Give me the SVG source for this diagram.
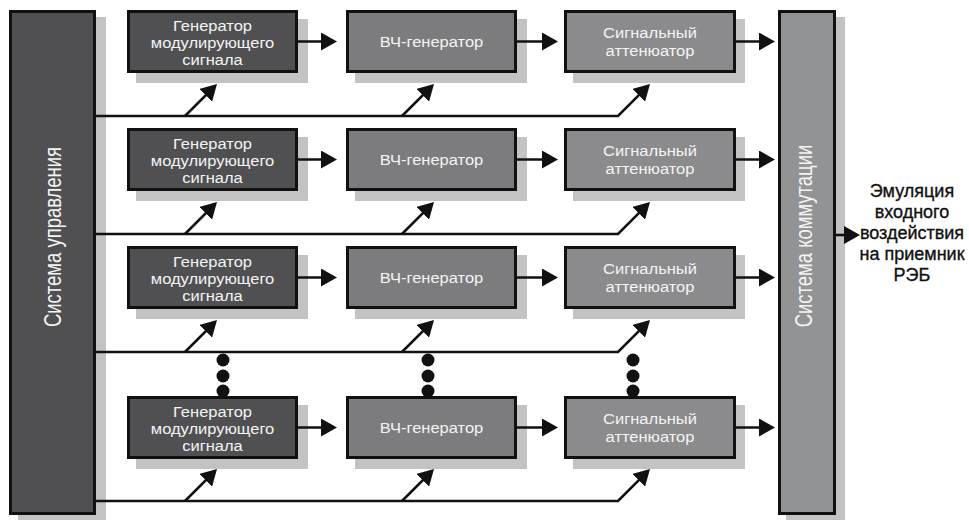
<svg xmlns="http://www.w3.org/2000/svg" width="969" height="520" viewBox="0 0 969 520">
<style>
.sh{fill:#c3c3c3}
.bx{stroke:#111;stroke-width:3}
.dk{fill:#505052}
.vc{fill:#7c7c7e}
.at{fill:#8b8b8d}
.cm{fill:#929395}
.t{font-family:"Liberation Sans",Arial,sans-serif;font-size:15px;fill:#f4f4f4;text-anchor:middle}
.vt{font-family:"Liberation Sans",Arial,sans-serif;font-size:24px;fill:#f4f4f4;text-anchor:middle}
.o{font-family:"Liberation Sans",Arial,sans-serif;font-size:18px;fill:#111;stroke:#111;stroke-width:0.35;text-anchor:middle}
.ln{fill:none;stroke:#111;stroke-width:2.6}
.dot{fill:#111}
</style>
<defs>
<marker id="ah" markerUnits="userSpaceOnUse" viewBox="0 0 16 18" refX="13" refY="9" markerWidth="16" markerHeight="18" orient="auto">
<path d="M0,0 L16,9 L0,18 z" fill="#111"/>
</marker>
</defs>

<g id="control">
<rect class="sh" x="18" y="17" width="88" height="505"/>
<rect class="bx dk" x="10.5" y="11.5" width="84" height="502"/>
<text class="vt" transform="translate(61,237) rotate(-90) scale(0.77,1)">Система управления</text>
</g>

<g id="commutation">
<rect class="sh" x="786" y="17" width="59" height="505"/>
<rect class="bx cm" x="779.5" y="11.5" width="55" height="502"/>
<text class="vt" transform="translate(812,236) rotate(-90) scale(0.77,1)">Система коммутации</text>
</g>

<g id="dots">
<circle class="dot" cx="223" cy="360" r="6.5"/><circle class="dot" cx="223" cy="376" r="6.5"/><circle class="dot" cx="223" cy="391" r="6.5"/>
<circle class="dot" cx="428" cy="360" r="6.5"/><circle class="dot" cx="428" cy="376" r="6.5"/><circle class="dot" cx="428" cy="391" r="6.5"/>
<circle class="dot" cx="633" cy="360" r="6.5"/><circle class="dot" cx="633" cy="376" r="6.5"/><circle class="dot" cx="633" cy="391" r="6.5"/>
</g>

<g id="gen1"><rect class="sh" x="136" y="19" width="172" height="64"/><rect class="bx dk" x="128.5" y="11.5" width="168" height="60"/>
<text class="t" transform="translate(212.5,10) scale(1.1,1)"><tspan x="0" y="20.8">Генератор</tspan><tspan x="0" y="38.1">модулирующего</tspan><tspan x="0" y="55.4">сигнала</tspan></text></g>
<g id="vch1"><rect class="sh" x="355" y="19" width="172" height="64"/><rect class="bx vc" x="347.5" y="11.5" width="168" height="60"/>
<text class="t" transform="translate(431.5,10) scale(1.1,1)" x="0" y="37">ВЧ-генератор</text></g>
<g id="att1"><rect class="sh" x="573" y="19" width="172" height="64"/><rect class="bx at" x="565.5" y="11.5" width="169" height="60"/>
<text class="t" transform="translate(650,10) scale(1.1,1)"><tspan x="0" y="28.5">Сигнальный</tspan><tspan x="0" y="45.8">аттенюатор</tspan></text></g>

<g id="gen2"><rect class="sh" x="136" y="137" width="172" height="64"/><rect class="bx dk" x="128.5" y="129.5" width="168" height="60"/>
<text class="t" transform="translate(212.5,128) scale(1.1,1)"><tspan x="0" y="20.8">Генератор</tspan><tspan x="0" y="38.1">модулирующего</tspan><tspan x="0" y="55.4">сигнала</tspan></text></g>
<g id="vch2"><rect class="sh" x="355" y="137" width="172" height="64"/><rect class="bx vc" x="347.5" y="129.5" width="168" height="60"/>
<text class="t" transform="translate(431.5,128) scale(1.1,1)" x="0" y="37">ВЧ-генератор</text></g>
<g id="att2"><rect class="sh" x="573" y="137" width="172" height="64"/><rect class="bx at" x="565.5" y="129.5" width="169" height="60"/>
<text class="t" transform="translate(650,128) scale(1.1,1)"><tspan x="0" y="28.5">Сигнальный</tspan><tspan x="0" y="45.8">аттенюатор</tspan></text></g>

<g id="gen3"><rect class="sh" x="136" y="255" width="172" height="64"/><rect class="bx dk" x="128.5" y="247.5" width="168" height="60"/>
<text class="t" transform="translate(212.5,246) scale(1.1,1)"><tspan x="0" y="20.8">Генератор</tspan><tspan x="0" y="38.1">модулирующего</tspan><tspan x="0" y="55.4">сигнала</tspan></text></g>
<g id="vch3"><rect class="sh" x="355" y="255" width="172" height="64"/><rect class="bx vc" x="347.5" y="247.5" width="168" height="60"/>
<text class="t" transform="translate(431.5,246) scale(1.1,1)" x="0" y="37">ВЧ-генератор</text></g>
<g id="att3"><rect class="sh" x="573" y="255" width="172" height="64"/><rect class="bx at" x="565.5" y="247.5" width="169" height="60"/>
<text class="t" transform="translate(650,246) scale(1.1,1)"><tspan x="0" y="28.5">Сигнальный</tspan><tspan x="0" y="45.8">аттенюатор</tspan></text></g>

<g id="gen4"><rect class="sh" x="136" y="405" width="172" height="64"/><rect class="bx dk" x="128.5" y="397.5" width="168" height="60"/>
<text class="t" transform="translate(212.5,396) scale(1.1,1)"><tspan x="0" y="20.8">Генератор</tspan><tspan x="0" y="38.1">модулирующего</tspan><tspan x="0" y="55.4">сигнала</tspan></text></g>
<g id="vch4"><rect class="sh" x="355" y="405" width="172" height="64"/><rect class="bx vc" x="347.5" y="397.5" width="168" height="60"/>
<text class="t" transform="translate(431.5,396) scale(1.1,1)" x="0" y="37">ВЧ-генератор</text></g>
<g id="att4"><rect class="sh" x="573" y="405" width="172" height="64"/><rect class="bx at" x="565.5" y="397.5" width="169" height="60"/>
<text class="t" transform="translate(650,396) scale(1.1,1)"><tspan x="0" y="28.5">Сигнальный</tspan><tspan x="0" y="45.8">аттенюатор</tspan></text></g>

<g id="output">
<text class="o" x="912" y="197">Эмуляция<tspan x="912" dy="21">входного</tspan><tspan x="912" dy="21">воздействия</tspan><tspan x="912" dy="21">на приемник</tspan><tspan x="912" dy="21">РЭБ</tspan></text>
</g>

<g id="connectors">
<line class="ln" x1="298" y1="41.5" x2="334" y2="41.5" marker-end="url(#ah)"/>
<line class="ln" x1="517" y1="41.5" x2="555" y2="41.5" marker-end="url(#ah)"/>
<line class="ln" x1="736" y1="41.5" x2="772" y2="41.5" marker-end="url(#ah)"/>
<line class="ln" x1="298" y1="159.5" x2="334" y2="159.5" marker-end="url(#ah)"/>
<line class="ln" x1="517" y1="159.5" x2="555" y2="159.5" marker-end="url(#ah)"/>
<line class="ln" x1="736" y1="159.5" x2="772" y2="159.5" marker-end="url(#ah)"/>
<line class="ln" x1="298" y1="277.5" x2="334" y2="277.5" marker-end="url(#ah)"/>
<line class="ln" x1="517" y1="277.5" x2="555" y2="277.5" marker-end="url(#ah)"/>
<line class="ln" x1="736" y1="277.5" x2="772" y2="277.5" marker-end="url(#ah)"/>
<line class="ln" x1="298" y1="427.5" x2="334" y2="427.5" marker-end="url(#ah)"/>
<line class="ln" x1="517" y1="427.5" x2="555" y2="427.5" marker-end="url(#ah)"/>
<line class="ln" x1="736" y1="427.5" x2="772" y2="427.5" marker-end="url(#ah)"/>
<line class="ln" x1="836" y1="235" x2="857" y2="235" marker-end="url(#ah)"/>

<path class="ln" d="M96,116 H618 L647.9,86.1" marker-end="url(#ah)"/>
<path class="ln" d="M185,116 L214.9,86.1" marker-end="url(#ah)"/>
<path class="ln" d="M402,116 L431.9,86.1" marker-end="url(#ah)"/>

<path class="ln" d="M96,234 H618 L647.9,204.1" marker-end="url(#ah)"/>
<path class="ln" d="M185,234 L214.9,204.1" marker-end="url(#ah)"/>
<path class="ln" d="M402,234 L431.9,204.1" marker-end="url(#ah)"/>

<path class="ln" d="M96,352 H618 L647.9,322.1" marker-end="url(#ah)"/>
<path class="ln" d="M185,352 L214.9,322.1" marker-end="url(#ah)"/>
<path class="ln" d="M402,352 L431.9,322.1" marker-end="url(#ah)"/>

<path class="ln" d="M96,501 H618 L647.9,471.1" marker-end="url(#ah)"/>
<path class="ln" d="M185,501 L214.9,471.1" marker-end="url(#ah)"/>
<path class="ln" d="M402,501 L431.9,471.1" marker-end="url(#ah)"/>
</g>
</svg>
